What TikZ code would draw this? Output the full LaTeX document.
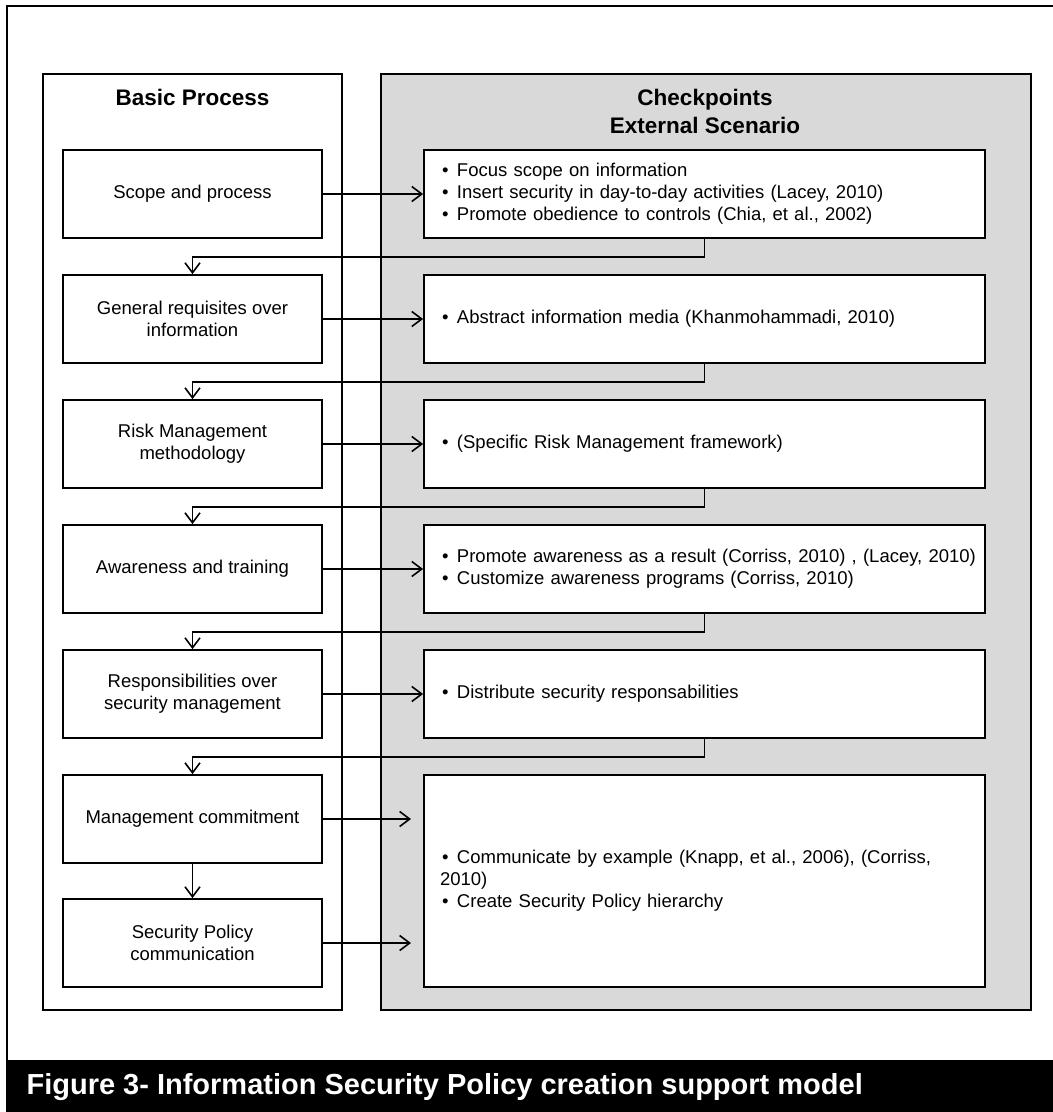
\documentclass[tikz,border=0pt]{standalone}
\usepackage{fontspec}
\setmainfont{Liberation Sans}
\usetikzlibrary{arrows.meta}
\definecolor{panelgray}{HTML}{D9D9D9}
\newcommand{\bulitem}{\makebox[25pt][l]{\hspace{10pt}•}}
\tikzset{
  lbox/.style={draw, line width=1.8pt, fill=white, minimum width=259pt, minimum height=88pt, inner sep=0pt, align=center, font=\fontsize{18.5}{22}\selectfont},
  rbox/.style={draw, line width=1.8pt, fill=white, minimum width=561pt, minimum height=88pt, inner xsep=8pt, inner ysep=0pt, text width=545pt, align=left, font=\fontsize{18.5}{22}\selectfont},
  conn/.style={line width=1.6pt, -{Straight Barb[length=10pt,width=15pt,line width=1.6pt]}},
  paneltitle/.style={font=\fontsize{22.5}{28}\selectfont\bfseries, align=center},
}
\begin{document}
\begin{tikzpicture}[x=1pt,y=-1pt]
\useasboundingbox (0,0) rectangle (1053,1112);
% outer frame
\coordinate (tl) at (7,6);
\coordinate (tr) at (1053,6);
\coordinate (bl) at (7,1060);
\draw[line width=2pt] (tr) -- (tl) -- (bl);
% caption band
\fill[black] (6,1060) rectangle (1053,1112);
\node[text=white, font=\fontsize{29}{34}\selectfont\bfseries, anchor=west] (cap) at (23,1087) {Figure 3- Information Security Policy creation support model};
% panels
\node[draw, line width=1.8pt, fill=white, minimum width=299pt, minimum height=936pt, inner sep=0pt] (lpanel) at (192.5,542) {};
\node[draw, line width=1.8pt, fill=panelgray, minimum width=650pt, minimum height=936pt, inner sep=0pt] (rpanel) at (706,542) {};
\node[paneltitle] (lt) at (192.5,97) {Basic Process};
\node[paneltitle] (rt) at (705,111) {Checkpoints\\External Scenario};
% left boxes
\node[lbox] (l1) at (192.5,194) {Scope and process};
\node[lbox] (l2) at (192.5,319) {General requisites over\\information};
\node[lbox] (l3) at (192.5,444) {Risk Management\\methodology};
\node[lbox] (l4) at (192.5,569) {Awareness and training};
\node[lbox] (l5) at (192.5,694) {Responsibilities over\\security management};
\node[lbox] (l6) at (192.5,819) {Management commitment};
\node[lbox] (l7) at (192.5,943) {Security Policy\\communication};
% right boxes
\node[rbox] (r1) at (704.5,194) {\bulitem Focus scope on information\\\bulitem Insert security in day-to-day activities (Lacey, 2010)\\\bulitem Promote obedience to controls (Chia, et al., 2002)};
\node[rbox] (r2) at (704.5,319) {\bulitem Abstract information media (Khanmohammadi, 2010)};
\node[rbox] (r3) at (704.5,444) {\bulitem (Specific Risk Management framework)};
\node[rbox] (r4) at (704.5,569) {\bulitem Promote awareness as a result (Corriss, 2010) , (Lacey, 2010)\\\bulitem Customize awareness programs (Corriss, 2010)};
\node[rbox] (r5) at (704.5,694) {\bulitem Distribute security responsabilities};
\node[rbox, minimum height=212pt] (r6) at (704.5,881) {\bulitem Communicate by example (Knapp, et al., 2006), (Corriss,\\\hspace{8pt}2010)\\\bulitem Create Security Policy hierarchy};
% horizontal arrows
\draw[conn] (l1.east) -- (r1.west);
\draw[conn] (l2.east) -- (r2.west);
\draw[conn] (l3.east) -- (r3.west);
\draw[conn] (l4.east) -- (r4.west);
\draw[conn] (l5.east) -- (r5.west);
\coordinate (a6) at (411,819);
\coordinate (a7) at (411,943);
\draw[conn] (l6.east) -- (a6);
\draw[conn] (l7.east) -- (a7);
% return connectors
\draw[conn] (r1.south) -- ++(0,18) -| (l2.north);
\draw[conn] (r2.south) -- ++(0,18) -| (l3.north);
\draw[conn] (r3.south) -- ++(0,18) -| (l4.north);
\draw[conn] (r4.south) -- ++(0,18) -| (l5.north);
\draw[conn] (r5.south) -- ++(0,18) -| (l6.north);
\draw[conn] (l6.south) -- (l7.north);
\end{tikzpicture}
\end{document}
